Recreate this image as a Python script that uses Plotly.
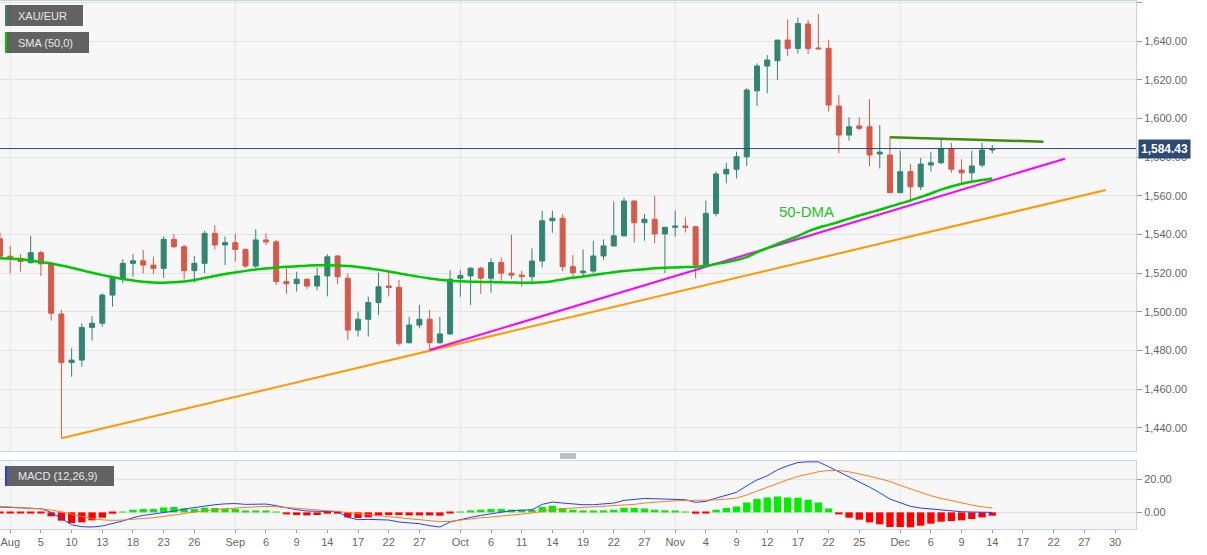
import plotly.graph_objects as go

# candle index 0 = Jul 30 2021, 97 = Dec 14 2021
opens = [1537.8, 1528.8, 1527.7, 1525.4, 1530.6, 1525.1, 1498.9, 1473.8, 1475.1, 1492.0,
         1494.1, 1508.7, 1516.8, 1525.1, 1526.4, 1524.2, 1522.5, 1537.5, 1533.7, 1521.3,
         1525.1, 1540.6, 1534.6, 1535.8, 1532.3, 1523.7, 1537.2, 1536.2, 1515.7, 1514.6,
         1516.9, 1513.4, 1518.6, 1528.9, 1517.4, 1490.6, 1496.2, 1504.8, 1513.4, 1512.7,
         1484.1, 1493.2, 1496.2, 1484.1, 1488.6, 1517.4, 1518.6, 1522.6, 1517.4, 1525.5,
         1520.0, 1519.0, 1518.2, 1526.3, 1547.1, 1548.4, 1523.4, 1520.3, 1521.1, 1528.9,
         1534.1, 1539.3, 1557.3, 1546.1, 1547.9, 1540.3, 1543.7, 1544.4, 1544.0, 1524.2,
         1550.9, 1571.3, 1573.7, 1580.2, 1614.3, 1627.1, 1629.8, 1640.5, 1636.2, 1648.8,
         1636.4, 1636.2, 1606.4, 1591.4, 1596.1, 1595.7, 1581.6, 1581.1, 1561.6, 1572.5,
         1564.7, 1575.9, 1577.1, 1584.5, 1573.3, 1571.9, 1575.9, 1583.7]
highs = [1541.0, 1534.0, 1529.9, 1539.3, 1531.6, 1526.0, 1501.0, 1481.2, 1494.1, 1497.9,
         1509.6, 1518.6, 1527.2, 1529.9, 1532.0, 1528.6, 1539.1, 1540.3, 1534.6, 1528.9,
         1541.9, 1544.9, 1539.0, 1540.3, 1532.8, 1542.7, 1540.6, 1537.2, 1523.0, 1520.8,
         1517.2, 1523.0, 1529.9, 1529.4, 1520.0, 1500.1, 1507.9, 1520.3, 1520.3, 1516.5,
         1497.5, 1503.6, 1501.0, 1497.5, 1521.6, 1521.6, 1523.0, 1523.4, 1527.7, 1528.2,
         1539.8, 1521.3, 1532.9, 1552.3, 1552.3, 1550.5, 1529.4, 1532.3, 1536.8, 1537.5,
         1557.0, 1559.0, 1557.8, 1550.6, 1559.9, 1544.0, 1552.3, 1548.9, 1544.4, 1557.5,
         1572.6, 1577.1, 1582.8, 1615.6, 1628.5, 1632.8, 1640.5, 1651.2, 1652.2, 1650.9,
         1654.0, 1640.5, 1612.1, 1600.6, 1600.6, 1609.9, 1596.6, 1590.5, 1583.3, 1576.4,
         1579.6, 1582.8, 1589.2, 1587.4, 1578.9, 1583.3, 1587.4, 1586.3]
lows = [1527.0, 1519.9, 1520.8, 1525.1, 1518.6, 1495.5, 1434.7, 1466.5, 1471.7, 1485.1,
        1492.4, 1502.7, 1514.8, 1518.2, 1520.0, 1519.6, 1517.4, 1533.0, 1516.9, 1515.1,
        1520.0, 1532.3, 1524.2, 1526.0, 1522.8, 1522.8, 1534.6, 1513.9, 1509.3, 1510.5,
        1511.8, 1511.2, 1508.0, 1514.4, 1485.5, 1487.2, 1487.2, 1498.4, 1508.0, 1482.5,
        1483.5, 1491.5, 1480.3, 1483.5, 1488.0, 1507.8, 1503.6, 1509.3, 1509.9, 1516.1,
        1516.8, 1513.0, 1515.6, 1523.0, 1540.9, 1521.1, 1518.0, 1518.6, 1520.0, 1526.8,
        1533.7, 1539.0, 1535.8, 1536.8, 1535.4, 1520.1, 1538.9, 1541.0, 1517.4, 1523.3,
        1549.3, 1566.5, 1569.0, 1575.4, 1606.4, 1613.0, 1619.8, 1632.2, 1633.6, 1633.3,
        1635.7, 1603.5, 1582.0, 1588.5, 1594.0, 1575.4, 1574.2, 1561.6, 1561.6, 1557.0,
        1563.0, 1572.5, 1576.4, 1571.9, 1566.8, 1567.3, 1574.7, 1582.0]
closes = [1528.8, 1528.2, 1526.0, 1530.6, 1524.8, 1499.3, 1473.8, 1475.1, 1492.0, 1494.1,
          1508.7, 1517.4, 1525.1, 1526.4, 1524.2, 1522.5, 1537.5, 1533.7, 1521.3, 1525.1,
          1540.6, 1534.6, 1535.8, 1532.3, 1523.7, 1537.2, 1536.2, 1515.7, 1514.6, 1516.9,
          1513.4, 1518.6, 1528.5, 1518.2, 1490.6, 1496.2, 1504.8, 1513.0, 1512.6, 1483.8,
          1493.2, 1496.2, 1484.1, 1488.6, 1516.9, 1518.8, 1522.6, 1517.4, 1525.5, 1520.0,
          1519.0, 1518.3, 1526.3, 1547.1, 1548.4, 1523.4, 1520.3, 1521.1, 1528.9, 1534.1,
          1539.3, 1557.3, 1546.1, 1547.9, 1540.3, 1543.7, 1544.4, 1543.7, 1524.2, 1550.9,
          1571.3, 1573.7, 1580.2, 1614.7, 1627.1, 1630.2, 1640.5, 1636.2, 1649.1, 1636.2,
          1636.0, 1606.9, 1591.4, 1595.7, 1594.9, 1581.1, 1582.6, 1561.6, 1572.5, 1564.7,
          1576.4, 1577.1, 1584.5, 1573.7, 1571.9, 1575.4, 1583.7, 1584.43]

sma50 = [1527.7, 1527.5, 1527.2, 1526.6, 1525.8, 1525.0, 1524.0, 1522.8, 1521.5, 1520.2,
         1519.0, 1518.0, 1517.0, 1516.2, 1515.6, 1515.2, 1515.1, 1515.3, 1515.7, 1516.5,
         1517.5, 1518.6, 1519.6, 1520.4, 1521.2, 1521.9, 1522.4, 1522.9, 1523.3, 1523.6,
         1523.9, 1524.1, 1524.1, 1524.0, 1523.7, 1523.2, 1522.6, 1521.8, 1520.9, 1520.0,
         1519.0, 1518.1, 1517.3, 1516.6, 1516.1, 1515.8, 1515.6, 1515.5, 1515.4, 1515.3,
         1515.2, 1515.1, 1515.1, 1515.3, 1515.9, 1516.8, 1517.6, 1518.3, 1519.1, 1519.8,
         1520.5, 1521.1, 1521.6, 1522.1, 1522.5, 1522.8, 1523.0, 1523.2, 1523.4, 1523.9,
         1524.8, 1525.6, 1526.8, 1528.3, 1530.8, 1533.0, 1535.2, 1537.2, 1539.2, 1541.6,
         1543.5, 1545.0, 1546.5, 1548.2, 1549.8, 1551.3, 1552.8, 1554.4, 1556.0, 1557.6,
         1559.4, 1561.2, 1563.2, 1564.8, 1566.2, 1567.3, 1568.2, 1569.0]

macd = [3.2, 3.0, 2.9, 2.7, 2.2, 0.0, -4.0, -7.5, -8.6, -8.8,
        -8.2, -6.8, -5.2, -3.2, -1.8, -1.0, -0.3, 0.8, 2.0, 3.0,
        4.0, 4.6, 5.1, 5.3, 4.8, 4.8, 5.0, 4.0, 2.6, 1.6,
        0.8, 0.6, 0.6, 0.4, -3.0, -4.4, -4.2, -4.2, -4.6, -5.8,
        -6.4, -6.8, -8.0, -8.8, -5.8, -4.2, -3.0, -1.8, -0.8, 0.2,
        1.0, 1.3, 1.6, 4.8, 6.2, 5.6, 5.0, 4.6, 4.6, 5.0,
        5.6, 7.2, 8.0, 8.4, 8.2, 8.0, 8.0, 7.6, 6.0, 6.6,
        8.6, 10.2, 12.0, 16.0, 19.5, 22.0, 25.6, 28.0, 30.0, 30.4,
        30.4, 27.5, 24.5, 21.5, 18.6, 15.2, 11.8, 8.0, 5.8, 3.6,
        2.6, 2.0, 1.6, 0.8, 0.4, 0.2, 0.0, 0.0]
signal = [3.6, 3.3, 3.0, 2.6, 2.1, 1.4, 0.4, -1.2, -2.6, -3.8,
          -4.5, -4.8, -4.6, -4.2, -3.8, -3.2, -2.4, -1.5, -0.6, 0.3,
          1.0, 1.6, 2.2, 2.6, 3.0, 3.3, 3.6, 3.4, 3.0, 2.6,
          2.1, 1.6, 1.0, 0.5, -0.2, -1.0, -1.6, -2.0, -2.6, -3.2,
          -3.8, -4.4, -5.0, -5.6, -5.4, -4.6, -3.8, -3.2, -2.8, -2.2,
          -1.6, -1.2, -0.4, 0.6, 1.6, 2.2, 2.6, 2.9, 3.2, 3.5,
          3.8, 4.3, 4.8, 5.6, 6.2, 6.6, 7.0, 7.1, 7.2, 7.2,
          7.5, 8.0, 8.6, 10.5, 12.8, 15.2, 17.5, 19.6, 21.6, 23.2,
          24.4, 25.2, 25.2, 24.4, 23.2, 21.8, 20.2, 18.6, 16.2, 14.0,
          12.0, 10.0, 8.4, 7.0, 5.6, 4.4, 3.4, 2.6]
hist = [-0.5, -0.5, -0.5, -0.5, -0.6, -2.4, -5.0, -6.4, -6.0, -4.8,
        -3.2, -0.8, 0.4, 1.6, 2.0, 2.0, 3.0, 3.2, 2.4, 2.0,
        2.8, 2.6, 2.4, 2.0, 0.8, 0.8, 0.8, 0.3, -1.2, -1.6,
        -1.8, -1.6, -0.8, -0.8, -3.0, -3.4, -3.0, -1.8, -1.6, -1.6,
        -1.8, -1.8, -1.8, -2.0, -0.4, 0.4, 1.2, 1.6, 2.0, 2.0,
        1.6, 1.6, 1.6, 3.2, 4.0, 2.6, 1.6, 1.0, 1.0, 1.2,
        1.6, 2.8, 2.6, 2.4, 1.6, 1.2, 0.8, 0.4, -0.8, -0.4,
        1.6, 2.6, 3.6, 6.0, 8.0, 9.0, 9.6, 9.0, 8.8, 7.6,
        6.0, 2.4, -1.2, -3.2, -4.4, -6.0, -7.2, -8.8, -8.8, -9.0,
        -8.0, -6.8, -5.6, -5.2, -4.8, -4.0, -3.0, -2.0]

# trend lines (candle index, price)
support_x = [6, 108.1]
support_y = [1434.7, 1563.0]
rising_x = [42, 104.1]
rising_y = [1480.3, 1579.2]
resist_x = [87, 102.0]
resist_y = [1590.3, 1588.0]
last_price = 1584.43

tick_idx = [1, 4, 7, 10, 13, 16, 19, 23, 26, 29, 32, 35, 38, 41, 45, 48, 51, 54, 57,
            60, 63, 66, 69, 72, 75, 78, 81, 84, 88, 91, 94, 97, 100, 103, 106, 109]
tick_text = ['Aug', '5', '10', '13', '18', '23', '26', 'Sep', '6', '9', '14', '17', '22',
             '27', 'Oct', '6', '11', '14', '19', '22', '27', 'Nov', '4', '9', '12', '17',
             '22', '25', 'Dec', '6', '9', '14', '17', '22', '27', '30']
month_idx = [1, 23, 45, 66, 88]

idx = list(range(len(closes)))
W, H = 1207, 555
PW = 1136          # plot width in px
TOP, BOT = 1, 529  # plot area top / bottom in px


def px(x):
    return x / PW


def py(y):
    return (BOT - y) / (BOT - TOP)


GREEN = '#338571'
RED = '#d55a4a'
FONT = 'Liberation Sans, Arial, sans-serif'

fig = go.Figure()

fig.add_trace(go.Candlestick(
    x=idx, open=opens, high=highs, low=lows, close=closes,
    increasing=dict(line=dict(color=GREEN, width=1), fillcolor=GREEN),
    decreasing=dict(line=dict(color=RED, width=1), fillcolor=RED),
    showlegend=False, xaxis='x', yaxis='y'))

fig.add_trace(go.Scatter(x=support_x, y=support_y, mode='lines',
                         line=dict(color='#ff9900', width=2), showlegend=False))
fig.add_trace(go.Scatter(x=rising_x, y=rising_y, mode='lines',
                         line=dict(color='#ff00ff', width=2), showlegend=False))
fig.add_trace(go.Scatter(x=idx, y=sma50, mode='lines',
                         line=dict(color='#00c800', width=2.5, shape='spline'),
                         showlegend=False))
fig.add_trace(go.Scatter(x=resist_x, y=resist_y, mode='lines',
                         line=dict(color='#3f8c10', width=2.5), showlegend=False))

# MACD panel
fig.add_trace(go.Bar(x=idx, y=hist, width=0.72,
                     marker=dict(color=['#00ee00' if v >= 0 else '#ff0000' for v in hist],
                                 line=dict(width=0)),
                     showlegend=False, xaxis='x2', yaxis='y2'))
fig.add_trace(go.Scatter(x=idx, y=macd, mode='lines', line=dict(color='#1f3fff', width=1),
                         showlegend=False, xaxis='x2', yaxis='y2'))
fig.add_trace(go.Scatter(x=idx, y=signal, mode='lines', line=dict(color='#ff7a1a', width=1),
                         showlegend=False, xaxis='x2', yaxis='y2'))

main_dom = [py(451), 1.0]
macd_dom = [0.0, py(460.5)]
xr = [0, 111.05]
border = '#c9d1e3'
grid = '#e4e4e4'

shapes = []
# month gridlines
for m in month_idx:
    for dom in (main_dom, macd_dom):
        shapes.append(dict(type='line', xref='x', yref='paper', x0=m, x1=m,
                           y0=dom[0], y1=dom[1], line=dict(color=grid, width=1),
                           layer='below'))
# current price line
shapes.append(dict(type='line', xref='paper', yref='y', x0=0, x1=1, y0=last_price,
                   y1=last_price, line=dict(color='#2c4a75', width=1)))
# label boxes
for (x0, y0, x1, y1, c) in [(5, 5, 83, 26, GREEN), (5, 32, 89, 53, '#00c800'),
                            (5, 466, 114, 486, '#1f3fff')]:
    shapes.append(dict(type='rect', xref='paper', yref='paper', x0=px(x0), x1=px(x1),
                       y0=py(y1), y1=py(y0), fillcolor='rgba(85,85,85,0.92)',
                       line=dict(width=0)))
    shapes.append(dict(type='rect', xref='paper', yref='paper', x0=px(x0), x1=px(x0 + 2),
                       y0=py(y1), y1=py(y0), fillcolor=c, line=dict(width=0)))
# panel splitter handle
for yy in (454, 456, 458):
    shapes.append(dict(type='line', xref='paper', yref='paper', x0=px(560), x1=px(576),
                       y0=py(yy), y1=py(yy), line=dict(color='#808080', width=1)))

annotations = [
    dict(text='XAU/EUR', xref='paper', yref='paper', x=px(16), y=py(15.5),
         xanchor='left', yanchor='middle', showarrow=False,
         font=dict(family=FONT, size=11, color='#e8e8e8')),
    dict(text='SMA (50,0)', xref='paper', yref='paper', x=px(16), y=py(42.5),
         xanchor='left', yanchor='middle', showarrow=False,
         font=dict(family=FONT, size=11, color='#e8e8e8')),
    dict(text='MACD (12,26,9)', xref='paper', yref='paper', x=px(16), y=py(476),
         xanchor='left', yanchor='middle', showarrow=False,
         font=dict(family=FONT, size=11, color='#e8e8e8')),
    dict(text='50-DMA', xref='x', yref='y', x=78.8, y=1552.1, showarrow=False,
         font=dict(family=FONT, size=15, color='#22c322')),
    dict(text='<b>%s</b>' % f'{last_price:,.2f}', xref='paper', yref='y', x=px(1138),
         y=last_price, xanchor='left', yanchor='middle', showarrow=False,
         bgcolor='#2c4a75', borderpad=2,
         font=dict(family=FONT, size=12, color='white')),
]

axis_common = dict(showline=True, mirror=True, linecolor=border, linewidth=1,
                   zeroline=False)

fig.update_layout(
    width=W, height=H,
    margin=dict(l=0, r=W - PW, t=TOP, b=H - BOT),
    paper_bgcolor='white', plot_bgcolor='#f7f7f7',
    font=dict(family=FONT, size=11, color='#666'),
    bargap=0.28,
    xaxis=dict(domain=[0, 1], range=xr, anchor='y', showticklabels=False,
               showgrid=False, ticks='', rangeslider=dict(visible=False), **axis_common),
    xaxis2=dict(domain=[0, 1], range=xr, anchor='y2', matches='x', showgrid=False,
                tickmode='array', tickvals=tick_idx, ticktext=tick_text,
                ticks='outside', ticklen=3, tickcolor='#999',
                tickfont=dict(family=FONT, size=11, color='#666'), **axis_common),
    yaxis=dict(domain=main_dom, range=[1428.1, 1660.7], side='right', anchor='x',
               tickmode='linear', tick0=1440, dtick=20, tickformat=',.2f',
               ticks='outside', ticklen=5, tickcolor='#999', showgrid=True,
               gridcolor=grid, tickfont=dict(family=FONT, size=11, color='#666'),
               **axis_common),
    yaxis2=dict(domain=macd_dom, range=[-10.0, 31.2], side='right', anchor='x2',
                tickmode='array', tickvals=[0, 20], tickformat='.2f',
                ticks='outside', ticklen=5, tickcolor='#999', showgrid=True,
                gridcolor=grid, tickfont=dict(family=FONT, size=11, color='#666'),
                **axis_common),
    shapes=shapes,
    annotations=annotations,
)

# the page body has a default 8px margin; drop it so the chart sits at the window's corner
fig.write_html('out.html', config={'displayModeBar': False},
               post_script="document.body.style.margin='0';")
